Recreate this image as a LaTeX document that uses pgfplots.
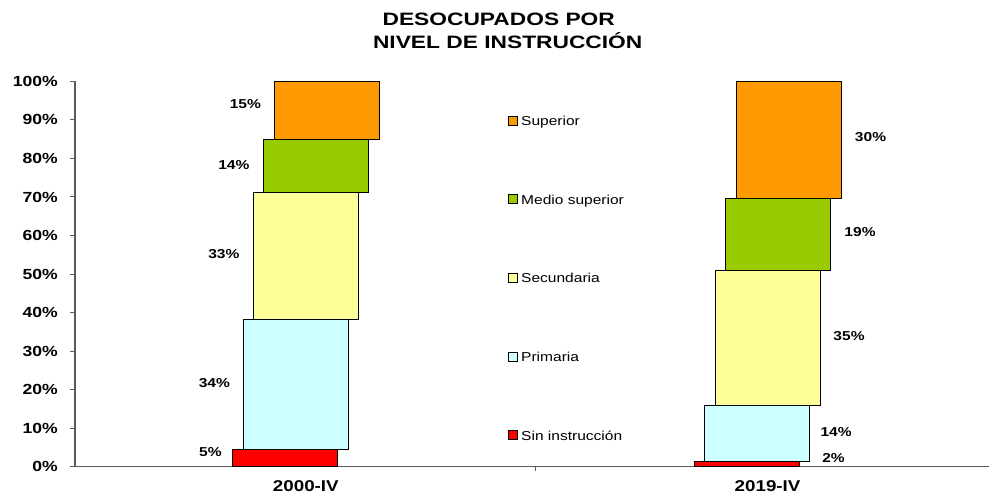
\documentclass[border=0pt]{standalone}
\usepackage{fontspec}
\setmainfont{Liberation Sans}[FakeStretch=1.2]
\newfontfamily\titlefont{Liberation Sans}[FakeStretch=1.27]
\usepackage{pgfplots}
\pgfplotsset{compat=1.18}
\definecolor{cSup}{HTML}{FF9900}
\definecolor{cMed}{HTML}{99CC00}
\definecolor{cSec}{HTML}{FFFF99}
\definecolor{cPri}{HTML}{CCFFFF}
\definecolor{cSin}{HTML}{FF0000}
\definecolor{axisgray}{HTML}{5A5A5A}
\tikzset{pct/.style={font=\bfseries\fontsize{13}{13}\selectfont, inner sep=0pt}}
\begin{document}
\begin{tikzpicture}
\path (0,0) rectangle (990bp,500bp);
\begin{axis}[
  at={(75bp,33bp)}, anchor=south west,
  scale only axis, width=915bp, height=385.6bp,
  xmin=75, xmax=990, ymin=0, ymax=100,
  ybar stacked, bar width=105,
  axis x line=bottom, axis y line=left,
  axis line style={-, draw=axisgray, line width=1.1bp},
  tick align=outside, major tick length=4.5bp,
  tick style={draw=axisgray, line width=1bp},
  ytick={0,10,...,100},
  yticklabels={0\%,10\%,20\%,30\%,40\%,50\%,60\%,70\%,80\%,90\%,100\%},
  yticklabel style={font=\bfseries\fontsize{14.7}{15}\selectfont, inner sep=0pt, xshift=-12.5bp},
  xtick={536}, xticklabels={},
  extra x ticks={306,768},
  extra x tick labels={2000-IV,2019-IV},
  extra x tick style={major tick length=0pt,
     xticklabel style={font=\bfseries\fontsize{15.7}{16}\selectfont, inner sep=0pt, anchor=north, yshift=-14bp}},
  reverse legend,
  legend cell align=left,
  legend image code/.code={\draw[#1, line width=0.8bp] (0bp,-4.5bp) rectangle (9bp,4.5bp);},
  legend style={draw=none, fill=none, inner sep=0pt,
     at={(axis description cs:0.4732,0.9119)}, anchor=north west,
     row sep=68.75bp,
     nodes={inner sep=0pt, text height=10bp, text depth=0bp, font=\fontsize{13}{13}\selectfont},
     /tikz/every odd column/.append style={column sep=3.5bp}},
]
\addplot[fill=cSin, draw=black, line width=0.8bp, bar shift=-21] coordinates {(306,4.5) (768,1.3)};
\addlegendentry{Sin instrucción}
\addplot[fill=cPri, draw=black, line width=0.8bp, bar shift=-10.4] coordinates {(306,33.7) (768,14.6)};
\addlegendentry{Primaria}
\addplot[fill=cSec, draw=black, line width=0.8bp, bar shift=0] coordinates {(306,32.9) (768,35.1)};
\addlegendentry{Secundaria}
\addplot[fill=cMed, draw=black, line width=0.8bp, bar shift=10.5] coordinates {(306,13.8) (768,18.7)};
\addlegendentry{Medio superior}
\addplot[fill=cSup, draw=black, line width=0.8bp, bar shift=21] coordinates {(306,15.1) (768,30.3)};
\addlegendentry{Superior}
\node[pct] at (axis cs:245.5,94.0) {15\%};
\node[pct] at (axis cs:234,78.2) {14\%};
\node[pct] at (axis cs:224,55.2) {33\%};
\node[pct] at (axis cs:214.5,21.8) {34\%};
\node[pct] at (axis cs:210.5,3.9) {5\%};
\node[pct] at (axis cs:871,85.6) {30\%};
\node[pct] at (axis cs:860.5,60.9) {19\%};
\node[pct] at (axis cs:849.5,33.8) {35\%};
\node[pct] at (axis cs:836.5,9.1) {14\%};
\node[pct] at (axis cs:834,2.3) {2\%};
\end{axis}
\node[anchor=base, font=\titlefont\bfseries\fontsize{18}{18}\selectfont, inner sep=0pt] at (499bp,474bp) {DESOCUPADOS POR};
\node[anchor=base, font=\titlefont\bfseries\fontsize{18}{18}\selectfont, inner sep=0pt] at (508bp,451bp) {NIVEL DE INSTRUCCIÓN};
\end{tikzpicture}
\end{document}
